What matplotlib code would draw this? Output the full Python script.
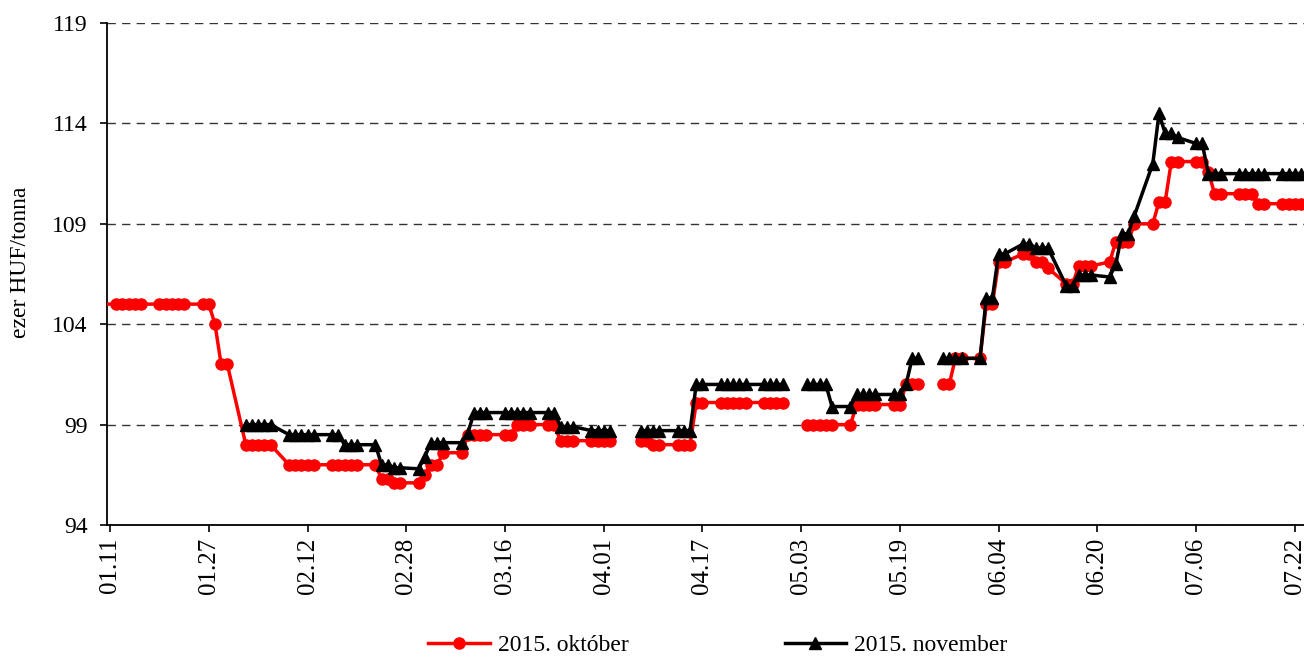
import numpy as np
import matplotlib
matplotlib.use('Agg')
import matplotlib.pyplot as plt
import matplotlib.dates as mdates
from datetime import datetime, timedelta

plt.rcParams['font.family'] = ['Liberation Serif', 'DejaVu Serif']

# 2015. október contract (red), NaN = break in the line
okt_dates = [
    '01-09',
    '01-12', '01-13', '01-14', '01-15', '01-16',
    '01-19', '01-20', '01-21', '01-22', '01-23',
    '01-26', '01-27', '01-28', '01-29', '01-30',
    '02-02', '02-03', '02-04', '02-05', '02-06',
    '02-09', '02-10', '02-11', '02-12', '02-13',
    '02-16', '02-17', '02-18', '02-19', '02-20',
    '02-23', '02-24', '02-25', '02-26', '02-27',
    '03-02', '03-03', '03-04', '03-05', '03-06',
    '03-09', '03-10', '03-11', '03-12', '03-13',
    '03-16', '03-17', '03-18', '03-19', '03-20',
    '03-23', '03-24', '03-25', '03-26', '03-27',
    '03-30', '03-31', '04-01', '04-02', '04-03',
    '04-07', '04-08', '04-09', '04-10',
    '04-13', '04-14', '04-15', '04-16', '04-17',
    '04-20', '04-21', '04-22', '04-23', '04-24',
    '04-27', '04-28', '04-29', '04-30', '05-01',
    '05-04', '05-05', '05-06', '05-07', '05-08',
    '05-11', '05-12', '05-13', '05-14', '05-15',
    '05-18', '05-19', '05-20', '05-21', '05-22',
    '05-25', '05-26', '05-27', '05-28', '05-29',
    '06-01', '06-02', '06-03', '06-04', '06-05',
    '06-08', '06-09', '06-10', '06-11', '06-12',
    '06-15', '06-16', '06-17', '06-18', '06-19',
    '06-22', '06-23', '06-24', '06-25', '06-26',
    '06-29', '06-30', '07-01', '07-02', '07-03',
    '07-06', '07-07', '07-08', '07-09', '07-10',
    '07-13', '07-14', '07-15', '07-16', '07-17',
    '07-20', '07-21', '07-22', '07-23',
]
okt_values = [
    105,
    105, 105, 105, 105, 105,
    105, 105, 105, 105, 105,
    105, 105, 104, 102, 102,
    98, 98, 98, 98, 98,
    97, 97, 97, 97, 97,
    97, 97, 97, 97, 97,
    97, 96.3, 96.3, 96.1, 96.1,
    96.1, 96.5, 97.0, 97.0, 97.6,
    97.6, 98.5, 98.5, 98.5, 98.5,
    98.5, 98.5, 99.0, 99.0, 99.0,
    99.0, 99.0, 98.2, 98.2, 98.2,
    98.2, 98.2, 98.2, 98.2, np.nan,
    98.2, 98.2, 98.0, 98.0,
    98.0, 98.0, 98.0, 100.1, 100.1,
    100.1, 100.1, 100.1, 100.1, 100.1,
    100.1, 100.1, 100.1, 100.1, np.nan,
    99.0, 99.0, 99.0, 99.0, 99.0,
    99.0, 100.0, 100.0, 100.0, 100.0,
    100.0, 100.0, 101.0, 101.0, 101.0,
    np.nan, 101.0, 101.0, 102.3, 102.3,
    102.3, 105.0, 105.0, 107.1, 107.1,
    107.5, 107.5, 107.1, 107.1, 106.8,
    106.0, 106.0, 106.9, 106.9, 106.9,
    107.1, 108.1, 108.1, 108.1, 109.0,
    109.0, 110.1, 110.1, 112.1, 112.1,
    112.1, 112.1, 111.6, 110.5, 110.5,
    110.5, 110.5, 110.5, 110.0, 110.0,
    110.0, 110.0, 110.0, 110.0,
]

# 2015. november contract (black)
nov_dates = [
    '02-02', '02-03', '02-04', '02-05', '02-06',
    '02-09', '02-10', '02-11', '02-12', '02-13',
    '02-16', '02-17', '02-18', '02-19', '02-20',
    '02-23', '02-24', '02-25', '02-26', '02-27',
    '03-02', '03-03', '03-04', '03-05', '03-06',
    '03-09', '03-10', '03-11', '03-12', '03-13',
    '03-16', '03-17', '03-18', '03-19', '03-20',
    '03-23', '03-24', '03-25', '03-26', '03-27',
    '03-30', '03-31', '04-01', '04-02', '04-03',
    '04-07', '04-08', '04-09', '04-10',
    '04-13', '04-14', '04-15', '04-16', '04-17',
    '04-20', '04-21', '04-22', '04-23', '04-24',
    '04-27', '04-28', '04-29', '04-30', '05-01',
    '05-04', '05-05', '05-06', '05-07', '05-08',
    '05-11', '05-12', '05-13', '05-14', '05-15',
    '05-18', '05-19', '05-20', '05-21', '05-22',
    '05-25', '05-26', '05-27', '05-28', '05-29',
    '06-01', '06-02', '06-03', '06-04', '06-05',
    '06-08', '06-09', '06-10', '06-11', '06-12',
    '06-15', '06-16', '06-17', '06-18', '06-19',
    '06-22', '06-23', '06-24', '06-25', '06-26',
    '06-29', '06-30', '07-01', '07-02', '07-03',
    '07-06', '07-07', '07-08', '07-09', '07-10',
    '07-13', '07-14', '07-15', '07-16', '07-17',
    '07-20', '07-21', '07-22', '07-23',
]
nov_values = [
    99.0, 99.0, 99.0, 99.0, 99.0,
    98.5, 98.5, 98.5, 98.5, 98.5,
    98.5, 98.5, 98.0, 98.0, 98.0,
    98.0, 97.0, 97.0, 96.85, 96.85,
    96.8, 97.4, 98.1, 98.1, 98.1,
    98.1, 98.6, 99.6, 99.6, 99.6,
    99.6, 99.6, 99.6, 99.6, 99.6,
    99.6, 99.6, 98.9, 98.9, 98.9,
    98.7, 98.7, 98.7, 98.7, np.nan,
    98.7, 98.7, 98.7, 98.7,
    98.7, 98.7, 98.7, 101.0, 101.0,
    101.0, 101.0, 101.0, 101.0, 101.0,
    101.0, 101.0, 101.0, 101.0, np.nan,
    101.0, 101.0, 101.0, 101.0, 99.9,
    99.9, 100.5, 100.5, 100.5, 100.5,
    100.5, 100.5, 101.0, 102.3, 102.3,
    np.nan, 102.3, 102.3, 102.3, 102.3,
    102.3, 105.3, 105.3, 107.5, 107.5,
    108.0, 108.0, 107.8, 107.8, 107.8,
    105.9, 105.9, 106.45, 106.45, 106.45,
    106.35, 107.0, 108.5, 108.5, 109.4,
    112.0, 114.5, 113.5, 113.5, 113.3,
    113.0, 113.0, 111.5, 111.5, 111.5,
    111.5, 111.5, 111.5, 111.5, 111.5,
    111.5, 111.5, 111.5, 111.5,
]

y_ticks = [94, 99, 104, 109, 114, 119]


def to_dates(days):
    return [datetime.strptime('2015-' + d, '%Y-%m-%d') for d in days]


fig = plt.figure(figsize=(13.04, 6.57), dpi=100)
ax = fig.add_axes([107 / 1304, 132 / 657, 1197 / 1304, 502 / 657])

ax.plot(to_dates(okt_dates), okt_values, color='#ff0000', linewidth=2.5,
        marker='o', markersize=8, label='2015. október', zorder=3)
ax.plot(to_dates(nov_dates), nov_values, color='black', linewidth=2.5,
        marker='^', markersize=9, label='2015. november', zorder=4)

start = datetime(2015, 1, 11)
ax.set_xlim(start - timedelta(hours=12), datetime(2015, 7, 23, 12))
ax.set_xticks([start + timedelta(days=16 * k) for k in range(13)])
ax.xaxis.set_major_formatter(mdates.DateFormatter('%m.%d'))
ax.set_ylim(94, 119)
ax.set_yticks(y_ticks)

ax.tick_params(axis='x', labelrotation=90, labelsize=18, length=5, width=1.2, pad=4)
ax.tick_params(axis='y', labelsize=17, length=5, width=1.2, pad=9)

ax.yaxis.grid(True, linestyle=(0, (6, 4.5)), color='#333333', linewidth=1)
ax.set_axisbelow(True)
for side in ['top', 'right']:
    ax.spines[side].set_visible(False)
for side in ['left', 'bottom']:
    ax.spines[side].set_linewidth(1.3)

fig.text(21 / 1304, 1 - 262 / 657, 'ezer HUF/tonna', rotation=90,
         ha='center', va='center', fontsize=17)

fig.legend(loc='center', bbox_to_anchor=(718 / 1304, 12 / 657), ncol=2,
           frameon=False, fontsize=17, handlelength=2.6, handletextpad=0.35,
           columnspacing=6.6, borderpad=0)

fig.savefig('out.png', dpi=100)
